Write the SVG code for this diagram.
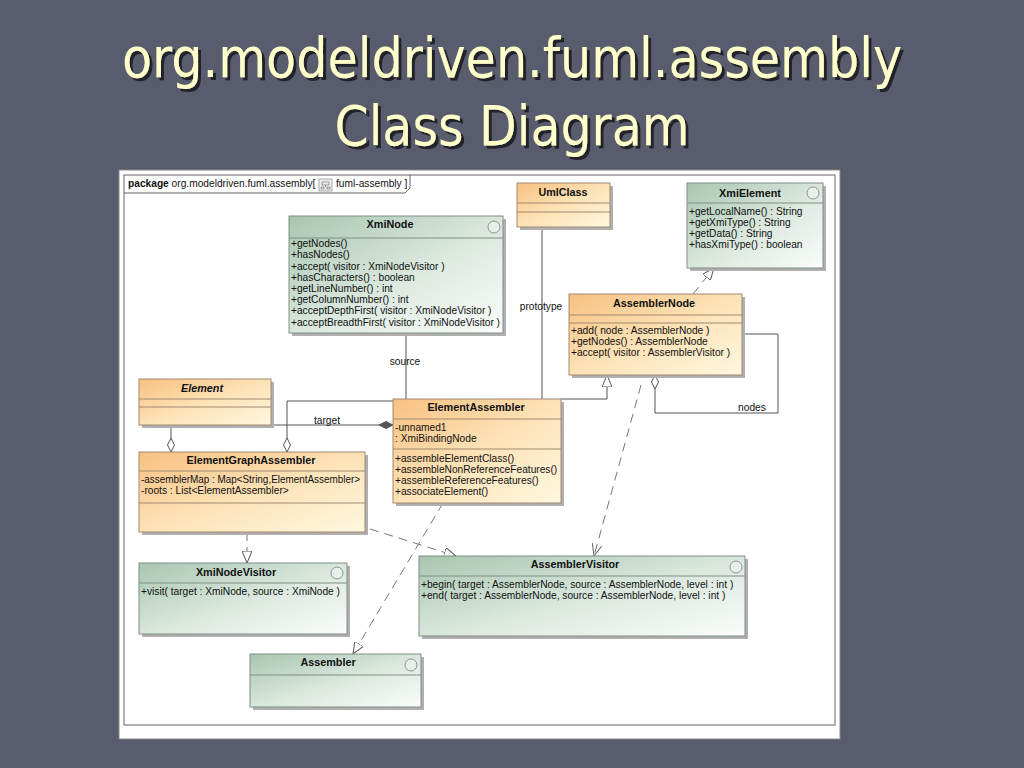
<svg xmlns="http://www.w3.org/2000/svg" width="1024" height="768" viewBox="0 0 1024 768">
<defs>
<linearGradient id="gOr" x1="0" y1="0" x2="1" y2="1">
<stop offset="0" stop-color="#f8c080"/>
<stop offset="0.5" stop-color="#fde2b6"/>
<stop offset="1" stop-color="#fff8e0"/>
</linearGradient>
<linearGradient id="gGr" x1="0" y1="0" x2="1" y2="1">
<stop offset="0" stop-color="#a8c6b0"/>
<stop offset="0.55" stop-color="#dde9e0"/>
<stop offset="1" stop-color="#fbfdfb"/>
</linearGradient>
<filter id="tshadow" x="-5%" y="-20%" width="110%" height="140%">
<feDropShadow dx="3" dy="3" stdDeviation="0.6" flood-color="#22242c" flood-opacity="1"/>
</filter>
<marker id="tri" viewBox="0 0 12 10" refX="12" refY="5" markerWidth="12" markerHeight="10" markerUnits="userSpaceOnUse" orient="auto">
<path d="M0,0 L12,5 L0,10 z" fill="#fff" stroke="#555" stroke-width="1"/>
</marker>
<marker id="vee" viewBox="0 0 12 10" refX="12" refY="5" markerWidth="12" markerHeight="10" markerUnits="userSpaceOnUse" orient="auto">
<path d="M0,0 L12,5 L0,10" fill="none" stroke="#666" stroke-width="1"/>
</marker>
<marker id="dia" viewBox="0 0 14 8" refX="14" refY="4" markerWidth="14" markerHeight="8" markerUnits="userSpaceOnUse" orient="auto">
<path d="M0,4 L7,0.5 L14,4 L7,7.5 z" fill="#fff" stroke="#555" stroke-width="1"/>
</marker>
<marker id="diaF" viewBox="0 0 14 8" refX="14" refY="4" markerWidth="14" markerHeight="8" markerUnits="userSpaceOnUse" orient="auto">
<path d="M0,4 L7,0.5 L14,4 L7,7.5 z" fill="#555" stroke="#555" stroke-width="1"/>
</marker>
</defs>
<style>
.t{font-family:"Liberation Sans",Arial,sans-serif;font-size:10.2px;fill:#111}
.h{font-family:"Liberation Sans",Arial,sans-serif;font-size:10.8px;font-weight:bold;fill:#111;text-anchor:middle}
.or{fill:url(#gOr);stroke:#a08a70;stroke-width:1}
.gr{fill:url(#gGr);stroke:#7f8f85;stroke-width:1}
.sh{fill:#b0b0b0}
.sep{stroke:#a08a70;stroke-width:1}
.sepg{stroke:#7f8f85;stroke-width:1}
.ic{fill:#e8eee9;stroke:#8a968e;stroke-width:1}
.ln{fill:none;stroke:#555;stroke-width:1}
.dl{fill:none;stroke:#777;stroke-width:1;stroke-dasharray:9 6}
.title{font-family:"DejaVu Sans Condensed","DejaVu Sans",sans-serif;font-size:56px;fill:#ffffcc;text-anchor:middle;filter:url(#tshadow)}
</style>
<rect x="0" y="0" width="1024" height="768" fill="#595c6d"/>
<g id="title">
<text class="title" x="512" y="77" textLength="780" lengthAdjust="spacingAndGlyphs">org.modeldriven.fuml.assembly</text>
<text class="title" x="512" y="145" textLength="355" lengthAdjust="spacingAndGlyphs">Class Diagram</text>
</g>
<g id="frame">
<rect x="119" y="170" width="721" height="569" fill="#fff" stroke="#888" stroke-width="1"/>
<rect x="124" y="175" width="711" height="550" fill="#fff" stroke="#666" stroke-width="1"/>
<path d="M124,193 L405,193 L410,188 L410,175" fill="none" stroke="#666" stroke-width="1"/>
<text class="t" x="128" y="187"><tspan font-weight="bold">package</tspan> org.modeldriven.fuml.assembly[</text>
<rect x="319" y="179" width="13" height="12" fill="#eee" stroke="#999" stroke-width="0.8"/>
<path d="M322,182 h7 v3 h-7 z M321,187 h3 v2 h-3 z M327,187 h3 v2 h-3 z M325.5,185 v2" fill="none" stroke="#777" stroke-width="0.7"/>
<text class="t" x="336" y="187">fuml-assembly ]</text>
</g>
<g id="connectors">
<path class="ln" d="M406,333 L406,399"/>
<path class="ln" d="M542,227 L542,399"/>
<path class="ln" d="M561,399 L607,399 L607,375" marker-end="url(#tri)"/>
<path class="ln" d="M393,401 L287,401 L287,452" marker-end="url(#dia)"/>
<path class="ln" d="M271,425 L393,425" marker-end="url(#diaF)"/>
<path class="ln" d="M171,425 L171,452" marker-end="url(#dia)"/>
<path class="ln" d="M742,334 L778,334 L778,413 L655,413 L655,375" marker-end="url(#dia)"/>
<path class="dl" d="M247,532 L247,563" marker-end="url(#tri)"/>
<path class="dl" d="M370,529 L456,556" marker-end="url(#tri)"/>
<path class="dl" d="M641,385 L594,556" marker-end="url(#vee)"/>
<path class="dl" d="M693,294 L714,268" marker-end="url(#tri)"/>
<path class="dl" d="M443,503 L353,654" marker-end="url(#tri)"/>
<text class="t" x="405" y="365" text-anchor="middle">source</text>
<text class="t" x="541" y="310" text-anchor="middle">prototype</text>
<text class="t" x="327" y="424" text-anchor="middle">target</text>
<text class="t" x="752" y="411" text-anchor="middle">nodes</text>
</g>
<g id="UmlClass">
<rect class="sh" x="520" y="186" width="93" height="44"/>
<rect class="or" x="517" y="183" width="93" height="44"/>
<line class="sep" x1="517" y1="203" x2="610" y2="203"/>
<line class="sep" x1="517" y1="212" x2="610" y2="212"/>
<text class="h" x="563" y="196">UmlClass</text>
</g>
<g id="XmiElement">
<rect class="sh" x="690" y="186" width="136" height="85"/>
<rect class="gr" x="687" y="183" width="136" height="85"/>
<line class="sepg" x1="687" y1="203" x2="823" y2="203"/>
<circle class="ic" cx="813" cy="193" r="6"/>
<text class="h" x="750" y="197">XmiElement</text>
<text class="t" x="689" y="215">+getLocalName() : String</text>
<text class="t" x="689" y="226">+getXmiType() : String</text>
<text class="t" x="689" y="237">+getData() : String</text>
<text class="t" x="689" y="248">+hasXmiType() : boolean</text>
</g>
<g id="XmiNode">
<rect class="sh" x="292" y="219" width="214" height="117"/>
<rect class="gr" x="289" y="216" width="214" height="117"/>
<line class="sepg" x1="289" y1="238" x2="503" y2="238"/>
<circle class="ic" cx="494" cy="227" r="6"/>
<text class="h" x="390" y="228">XmiNode</text>
<text class="t" x="291" y="247">+getNodes()</text>
<text class="t" x="291" y="258">+hasNodes()</text>
<text class="t" x="291" y="270">+accept( visitor : XmiNodeVisitor )</text>
<text class="t" x="291" y="281">+hasCharacters() : boolean</text>
<text class="t" x="291" y="292">+getLineNumber() : int</text>
<text class="t" x="291" y="303">+getColumnNumber() : int</text>
<text class="t" x="291" y="314">+acceptDepthFirst( visitor : XmiNodeVisitor )</text>
<text class="t" x="291" y="326">+acceptBreadthFirst( visitor : XmiNodeVisitor )</text>
</g>
<g id="AssemblerNode">
<rect class="sh" x="572" y="297" width="173" height="81"/>
<rect class="or" x="569" y="294" width="173" height="81"/>
<line class="sep" x1="569" y1="315" x2="742" y2="315"/>
<line class="sep" x1="569" y1="323" x2="742" y2="323"/>
<text class="h" x="654" y="307">AssemblerNode</text>
<text class="t" x="571" y="334">+add( node : AssemblerNode )</text>
<text class="t" x="571" y="345">+getNodes() : AssemblerNode</text>
<text class="t" x="571" y="356">+accept( visitor : AssemblerVisitor )</text>
</g>
<g id="Element">
<rect class="sh" x="142" y="382" width="132" height="46"/>
<rect class="or" x="139" y="379" width="132" height="46"/>
<line class="sep" x1="139" y1="399" x2="271" y2="399"/>
<line class="sep" x1="139" y1="407" x2="271" y2="407"/>
<text class="h" x="202" y="392" font-style="italic">Element</text>
</g>
<g id="ElementAssembler">
<rect class="sh" x="396" y="402" width="168" height="104"/>
<rect class="or" x="393" y="399" width="168" height="104"/>
<line class="sep" x1="393" y1="419" x2="561" y2="419"/>
<line class="sep" x1="393" y1="449" x2="561" y2="449"/>
<text class="h" x="476" y="411">ElementAssembler</text>
<text class="t" x="395" y="431">-unnamed1</text>
<text class="t" x="395" y="442"> : XmiBindingNode</text>
<text class="t" x="395" y="462">+assembleElementClass()</text>
<text class="t" x="395" y="473">+assembleNonReferenceFeatures()</text>
<text class="t" x="395" y="484">+assembleReferenceFeatures()</text>
<text class="t" x="395" y="495">+associateElement()</text>
</g>
<g id="ElementGraphAssembler">
<rect class="sh" x="142" y="455" width="226" height="80"/>
<rect class="or" x="139" y="452" width="226" height="80"/>
<line class="sep" x1="139" y1="471" x2="365" y2="471"/>
<line class="sep" x1="139" y1="503" x2="365" y2="503"/>
<text class="h" x="251" y="464">ElementGraphAssembler</text>
<text class="t" x="141" y="483" textLength="219" lengthAdjust="spacingAndGlyphs">-assemblerMap : Map&lt;String,ElementAssembler&gt;</text>
<text class="t" x="141" y="494">-roots : List&lt;ElementAssembler&gt;</text>
</g>
<g id="XmiNodeVisitor">
<rect class="sh" x="142" y="566" width="208" height="71"/>
<rect class="gr" x="139" y="563" width="208" height="71"/>
<line class="sepg" x1="139" y1="583" x2="347" y2="583"/>
<circle class="ic" cx="337" cy="573" r="6"/>
<text class="h" x="236" y="576">XmiNodeVisitor</text>
<text class="t" x="141" y="595">+visit( target : XmiNode, source : XmiNode )</text>
</g>
<g id="AssemblerVisitor">
<rect class="sh" x="422" y="559" width="326" height="80"/>
<rect class="gr" x="419" y="556" width="326" height="80"/>
<line class="sepg" x1="419" y1="576" x2="745" y2="576"/>
<circle class="ic" cx="736" cy="567" r="6"/>
<text class="h" x="575" y="568">AssemblerVisitor</text>
<text class="t" x="421" y="588">+begin( target : AssemblerNode, source : AssemblerNode, level : int )</text>
<text class="t" x="421" y="599">+end( target : AssemblerNode, source : AssemblerNode, level : int )</text>
</g>
<g id="Assembler">
<rect class="sh" x="253" y="657" width="171" height="53"/>
<rect class="gr" x="250" y="654" width="171" height="53"/>
<line class="sepg" x1="250" y1="675" x2="421" y2="675"/>
<circle class="ic" cx="411" cy="665" r="6"/>
<text class="h" x="328" y="666">Assembler</text>
</g>
</svg>
